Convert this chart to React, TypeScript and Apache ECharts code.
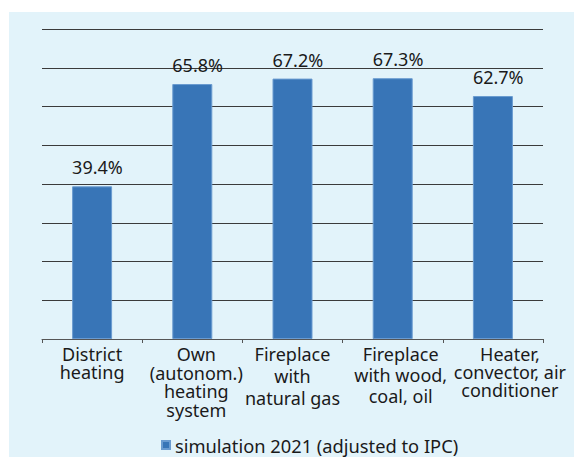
import React, { useEffect, useRef } from "react";
import * as echarts from "echarts";

const categories = [
  "District\nheating",
  "Own\n(autonom.)\nheating\nsystem",
  "Fireplace\nwith\nnatural gas",
  "Fireplace\nwith wood,\ncoal, oil",
  "Heater,\nconvector, air\nconditioner",
];
const values = [39.4, 65.8, 67.2, 67.3, 62.7];
const seriesName = "simulation 2021 (adjusted to IPC)";

// layout tweaks for the category labels (horizontal shift, line spacing)
const labelShift = [0, 4, 0, 8, 17];
const labelLineHeight = [18.3, 18.5, 21.8, 21, 17.8];

export default function App() {
  const ref = useRef<HTMLDivElement>(null);
  useEffect(() => {
    if (!ref.current) return;
    const chart = echarts.init(ref.current, undefined, { renderer: "svg" });
    const font = "'Noto Sans', 'Open Sans', sans-serif";
    const catData = categories.map((c, i) => ({
      value: c,
      textStyle: {
        lineHeight: labelLineHeight[i],
        padding: [(22 - labelLineHeight[i]) / 2, 0, 0, labelShift[i] * 2],
      },
    }));
    chart.setOption({
      animation: false,
      textStyle: { fontFamily: font },
      graphic: [
        {
          type: "rect",
          z: -10,
          silent: true,
          shape: { x: 9, y: 12, width: 565, height: 445 },
          style: { fill: "#e2f3fa" },
        },
      ],
      grid: { left: 42, right: 31, top: 29, bottom: 118, containLabel: false },
      legend: {
        left: 156,
        top: 431,
        itemWidth: 8,
        itemHeight: 8,
        itemGap: 5,
        icon: "rect",
        textStyle: { fontSize: 18.3, color: "#1a1a1a", fontFamily: font },
        data: [seriesName],
      },
      xAxis: {
        type: "category",
        data: catData,
        axisLine: { lineStyle: { color: "#555", width: 1 } },
        axisTick: { show: true, length: 4, lineStyle: { color: "#555" } },
        axisLabel: {
          color: "#1a1a1a",
          fontSize: 18,
          margin: 4,
          interval: 0,
          fontFamily: font,
        },
      },
      yAxis: {
        type: "value",
        min: 0,
        max: 80,
        interval: 10,
        axisLabel: { show: false },
        axisLine: { show: false },
        axisTick: { show: false },
        splitLine: { lineStyle: { color: "#3a3a3a", width: 1 } },
      },
      series: [
        {
          name: seriesName,
          type: "bar",
          data: values,
          barWidth: 40,
          itemStyle: { color: "#3875b7", borderColor: "#6a9bd0", borderWidth: 1 },
          label: {
            show: true,
            position: [0, -10],
            align: "left",
            verticalAlign: "bottom",
            formatter: (p: any) => p.value.toFixed(1) + "%",
            fontSize: 18,
            color: "#1a1a1a",
            fontFamily: font,
          },
        },
      ],
    });
    return () => chart.dispose();
  }, []);
  return (
    <div
      ref={ref}
      style={{ position: "fixed", left: 0, top: 0, width: 574, height: 457, background: "#ffffff" }}
    />
  );
}
